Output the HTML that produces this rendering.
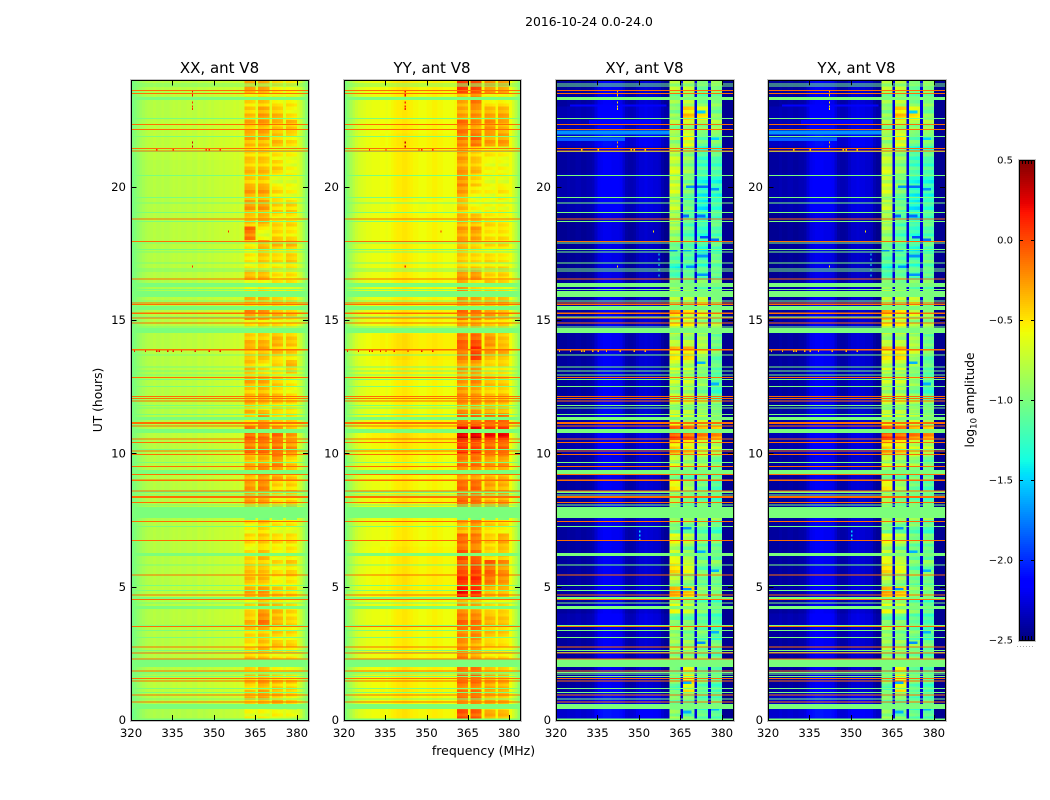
<!DOCTYPE html>
<html lang="en">
<head>
<meta charset="utf-8">
<title>2016-10-24 spectrogram, ant V8</title>
<style>
html,body{margin:0;padding:0;background:#fff;width:1050px;height:800px;overflow:hidden}
svg{display:block}
text{font-family:"DejaVu Sans",sans-serif;fill:#000}
</style>
</head>
<body>
<svg id="figure" width="1050" height="800" viewBox="0 0 1050 800" xmlns="http://www.w3.org/2000/svg">
<rect x="0" y="0" width="1050" height="800" fill="#fff"/>
<text x="589" y="26" font-size="12.4" text-anchor="middle">2016-10-24 0.0-24.0</text>
<text x="483.5" y="755" font-size="12.5" text-anchor="middle">frequency (MHz)</text>
<text transform="translate(102 400) rotate(-90)" font-size="12.3" text-anchor="middle">UT (hours)</text>
<text transform="translate(974 400) rotate(-90)" font-size="12.2" text-anchor="middle">log<tspan font-size="8.5" dy="2.5">10</tspan><tspan dy="-2.5"> amplitude</tspan></text>
</svg>
<script>
// ---------- axis data ----------
const panelTitles = ['XX, ant V8', 'YY, ant V8', 'XY, ant V8', 'YX, ant V8'];
const xTickValues = [320, 335, 350, 365, 380];
const yTickValues = [0, 5, 10, 15, 20];
const colorbarTicks = [-2.5, -2.0, -1.5, -1.0, -0.5, 0.0, 0.5];
const colorbarTickLabels = ['\u22122.5', '\u22122.0', '\u22121.5', '\u22121.0', '\u22120.5', '0.0', '0.5'];

// ---------- channel baselines, log10 amplitude for 320..360 MHz ----------
const xxChannelBase = [-1.02,-.98,-.93,-.88,-.85,-.82,-.8,-.8,-.78,-.8,-.8,-.78,-.8,-.8,-.78,-.76,-.78,-.76,-.78,-.78,-.76,-.76,-.78,-.78,-.74,-.76,-.78,-.76,-.74,-.76,-.74,-.74,-.72,-.74,-.72,-.72,-.72,-.7,-.72,-.7,-.7];
const yyChannelBase = [-1.0,-.92,-.85,-.78,-.72,-.68,-.66,-.64,-.62,-.62,-.6,-.6,-.6,-.58,-.58,-.6,-.58,-.56,-.54,-.52,-.52,-.5,-.5,-.52,-.54,-.56,-.56,-.58,-.58,-.58,-.56,-.56,-.54,-.54,-.56,-.56,-.58,-.58,-.58,-.58,-.56];
const xyChannelBase = [-2.42,-2.42,-2.42,-2.42,-2.4,-2.42,-2.42,-2.4,-2.4,-2.42,-2.42,-2.4,-2.4,-2.38,-2.3,-2.22,-2.2,-2.18,-2.18,-2.18,-2.2,-2.2,-2.2,-2.22,-2.3,-2.38,-2.4,-2.4,-2.38,-2.32,-2.28,-2.28,-2.26,-2.28,-2.28,-2.3,-2.3,-2.32,-2.4,-2.44,-2.44];
const yxChannelBase = [-2.42,-2.42,-2.42,-2.42,-2.4,-2.42,-2.42,-2.4,-2.4,-2.42,-2.42,-2.4,-2.4,-2.38,-2.3,-2.22,-2.2,-2.18,-2.18,-2.18,-2.2,-2.2,-2.2,-2.22,-2.3,-2.38,-2.4,-2.4,-2.38,-2.32,-2.28,-2.28,-2.26,-2.28,-2.28,-2.3,-2.3,-2.32,-2.4,-2.44,-2.44];
// ---------- channels above the blocks, 380..383 MHz ----------
const xxTail = [-.65,-.72,-.85,-.95];
const yyTail = [-.58,-.68,-.78,-.92];
const xyTail = [-2.45,-2.45,-2.45,-2.45];
const yxTail = [-2.45,-2.45,-2.45,-2.45];
// ---------- the single channels between blocks ----------
const gapValues = [-.64, -.56, -2.25, -2.25];

// ---------- per half-hour offset outside the blocks, listed from 24 h down to 0 h ----------
const xxRowBase = [0,0,0,.02,.03,.02,0,0,0,0,0,0,0,0,0,-.02,0,.02,0,0,0,0,0,0,0,0,.02,0,0,0,0,0,-.02,0,0,0,0,0,.02,0,0,0,0,0,0,.02,0,-.03];
const yyRowBase = [.02,0,0,0,.02,0,0,0,0,-.02,0,0,0,0,0,0,0,.02,0,.04,.04,.02,0,0,0,.02,.06,.03,0,0,0,.02,0,0,0,.02,.02,.03,.03,0,0,0,0,0,.02,.02,0,.02];
const xyRowBase = [0,0,.05,.05,.1,.02,0,.04,.04,.04,-.03,-.03,-.02,-.03,-.03,0,0,0,.02,0,0,0,0,0,0,.02,.06,.03,0,0,0,0,0,0,0,0,0,0,.02,0,.04,0,0,0,0,0,.1,.12];
const yxRowBase = [0,0,.05,.05,.1,.02,0,.04,.04,.04,-.03,-.03,-.02,-.03,-.03,0,0,0,.02,0,0,0,0,0,0,.02,.06,.03,0,0,0,0,0,0,0,0,0,0,.02,0,.04,0,0,0,0,0,.1,.12];

// ---------- band blocks: per half-hour values from 24 h down to 0 h ----------
const xxBlock361 = [-.3,-.45,-.35,-.3,-.3,-.4,-.35,-.35,-.25,-.25,-.35,-.1,-.45,-.5,-.35,-.5,-.35,-.2,-.5,-.3,-.35,-.35,-.3,-.35,-.3,-.4,-.05,-.1,-.3,-.25,-.25,-.25,-1,-.5,-.45,-.45,-.35,-.35,-.3,-.45,-.3,-.4,-.45,-.35,-.4,-.35,-.35,-.55];
const xxBlock366 = [-.3,-.4,-.25,-.25,-.3,-.4,-.35,-.35,-.25,-.25,-.3,-.55,-.3,-.4,-.35,-.45,-.35,-.25,-.45,-.3,-.3,-.45,-.3,-.3,-.35,-.2,-.1,-.1,-.25,-.15,-.2,-.25,-1,-.4,-.4,-.35,-.35,-.35,-.25,-.3,-.1,-.35,-.35,-.35,-.35,-.25,-.3,-.55];
const xxBlock371 = [-.45,-.5,-.3,-.35,-.35,-.5,-.4,-.55,-.45,-.4,-.45,-.4,-.35,-.45,-.45,-.5,-.35,-.35,-.45,-.3,-.35,-.45,-.4,-.35,-.4,-.45,-.1,-.1,-.15,-.25,-.4,-.45,-1,-.5,-.45,-.5,-.45,-.5,-.4,-.35,-.3,-.4,-.4,-.5,-.45,-.35,-.35,-.55];
const xxBlock376 = [-.5,-.5,-.45,-.35,-.45,-.55,-.55,-.55,-.55,-.4,-.45,-.45,-.35,-.4,-.45,-.5,-.4,-.4,-.5,-.35,-.4,-.35,-.5,-.45,-.45,-.45,-.25,-.2,-.35,-.35,-.4,-.4,-1,-.5,-.45,-.45,-.4,-.45,-.45,-.45,-.4,-.45,-.45,-.5,-.5,-.4,-.45,-.6];

const yyBlock361 = [.05,-.3,-.25,-.1,-.15,-.25,-.25,-.2,-.25,-.35,-.3,-.25,-.3,-.4,-.25,-.2,-.25,-.1,-.3,-.05,-.1,-.25,-.25,-.2,-.2,-.05,.3,.1,-.1,-.2,-.1,-.05,-1,-.3,-.1,0,0,.1,.2,-.25,-.05,-.15,-.2,-.1,-.1,-.1,-.15,0];
const yyBlock366 = [0,-.15,-.2,-.2,-.1,-.4,-.35,-.4,-.5,-.55,-.35,-.25,-.4,-.45,-.25,-.4,-.3,-.15,-.3,0,.1,-.25,-.2,-.25,-.2,-.05,.3,.05,-.1,-.2,-.1,-.1,-1,-.2,-.15,-.1,.05,.1,.1,-.3,-.1,-.15,-.3,-.25,-.1,-.1,-.15,-.05];
const yyBlock371 = [-.2,-.5,-.25,-.2,-.25,-.5,-.55,-.55,-.55,-.55,-.45,-.45,-.45,-.45,-.4,-.4,-.3,-.25,-.4,-.2,-.25,-.45,-.35,-.35,-.3,-.1,.2,-.05,-.2,-.3,-.25,-.3,-1,-.4,-.4,-.4,-.05,-.1,-.35,-.45,-.3,-.35,-.45,-.45,-.3,-.25,-.3,-.3];
const yyBlock376 = [-.25,-.5,-.25,-.3,-.25,-.55,-.55,-.55,-.5,-.55,-.5,-.45,-.45,-.5,-.4,-.45,-.3,-.35,-.4,-.35,-.3,-.45,-.4,-.35,-.35,-.1,.2,-.05,-.2,-.3,-.3,-.25,-1,-.45,-.3,-.35,-.2,-.2,-.35,-.45,-.35,-.4,-.5,-.45,-.35,-.3,-.35,-.35];

const xyBlock361 = [-.9,-1,-1,-.95,-.95,-.85,-.8,-.8,-.8,-.85,-.9,-.95,-1.1,-1.25,-1.3,-.9,-.9,-.5,-.7,-.85,-.55,-.8,-.85,-.9,-.85,-.7,-.1,-.5,-.8,-.95,-.7,-.95,-1,-1.05,-.75,-.8,-.55,-.9,-.45,-.75,-1.05,-.95,-.95,-.95,-1.1,-1.1,-1.1,-1];
const xyBlock366 = [-.9,-.9,-.5,-.85,-.7,-1,-1,-1.05,-1.1,-1.15,-1.2,-1.2,-1.2,-1.25,-1.2,-1,-.9,-.7,-.7,-.85,-.5,-.85,-.85,-.9,-.85,-.8,-.15,-.6,-.9,-1.05,-1,-1.1,-1,-1.1,-.9,-1,-.7,-1,-.55,-.85,-1.05,-1.05,-.95,-.95,-.7,-.6,-1.1,-1.1];
const xyBlock371 = [-1.1,-1.1,-.6,-1,-1.15,-1.3,-1.25,-1.3,-1.4,-1.45,-1.35,-1.3,-1.35,-1.3,-1.2,-1.1,-.7,-.8,-.9,-.9,-.85,-1,-1,-1,-.95,-.85,-.3,-.8,-.9,-1.05,-1.1,-1.15,-1,-1.1,-1.1,-1.1,-1.1,-1.1,-1.05,-1.1,-1.15,-1.1,-1.05,-1.05,-1.1,-1.15,-1.2,-1.2];
const xyBlock376 = [-1,-1.05,-1,-.95,-1.1,-1.2,-1.25,-1.3,-1.35,-1.3,-1.2,-1.2,-1.2,-1.15,-1.15,-1.1,-1,-1,-.9,-1.1,-1.1,-1.2,-1.2,-1.2,-1.05,-1,-.35,-.85,-1.05,-1.1,-1.2,-1.2,-1,-1.2,-1.1,-1.1,-1.05,-1.1,-1.1,-1.2,-1.25,-1.2,-1.15,-1.15,-1.15,-1.25,-1.2,-1.25];

const yxBlock361 = [-.9,-1,-1,-.95,-.95,-.85,-.8,-.8,-.8,-.85,-.9,-.95,-1.1,-1.25,-1.3,-.9,-.9,-.5,-.7,-.85,-.55,-.8,-.85,-.9,-.85,-.7,-.1,-.5,-.8,-.95,-.7,-.95,-1,-1.05,-.75,-.8,-.55,-.9,-.45,-.75,-1.05,-.95,-.95,-.95,-1.1,-1.1,-1.1,-1];
const yxBlock366 = [-.9,-.9,-.5,-.85,-.7,-1,-1,-1.05,-1.1,-1.15,-1.2,-1.2,-1.2,-1.25,-1.2,-1,-.9,-.7,-.7,-.85,-.5,-.85,-.85,-.9,-.85,-.8,-.15,-.6,-.9,-1.05,-1,-1.1,-1,-1.1,-.9,-1,-.7,-1,-.55,-.85,-1.05,-1.05,-.95,-.95,-.7,-.6,-1.1,-1.1];
const yxBlock371 = [-1.1,-1.1,-.6,-1,-1.15,-1.3,-1.25,-1.3,-1.4,-1.45,-1.35,-1.3,-1.35,-1.3,-1.2,-1.1,-.7,-.8,-.9,-.9,-.85,-1,-1,-1,-.95,-.85,-.3,-.8,-.9,-1.05,-1.1,-1.15,-1,-1.1,-1.1,-1.1,-1.1,-1.1,-1.05,-1.1,-1.15,-1.1,-1.05,-1.05,-1.1,-1.15,-1.2,-1.2];
const yxBlock376 = [-1,-1.05,-1,-.95,-1.1,-1.2,-1.25,-1.3,-1.35,-1.3,-1.2,-1.2,-1.2,-1.15,-1.15,-1.1,-1,-1,-.9,-1.1,-1.1,-1.2,-1.2,-1.2,-1.05,-1,-.35,-.85,-1.05,-1.1,-1.2,-1.2,-1,-1.2,-1.1,-1.1,-1.05,-1.1,-1.1,-1.2,-1.25,-1.2,-1.15,-1.15,-1.15,-1.25,-1.2,-1.25];

// ---------- fine striping inside blocks and channel tilt within a block ----------
const blockStripes = [-.02,-.18,.02,-.08,-.22,-.04,.03,-.14,-.06,-.2,.01,-.1,.02,-.16,-.24,-.03,-.09,.03,-.19,-.05,-.12];
const stripeScale = [.7, .6, 1.1, 1.1];
const blockTilt = [.03, .02, 0, -.02];
const crossBrightening = 0.15;

// ---------- flagged integrations (hours), constant across all channels ----------
const greenLineHours = [23.85,23.78,22.55,21.89,21.31,20.42,19.6,19.38,19.04,18.7,17.88,17.65,17.55,17.13,16.91,16.84,16.15,15.71,15.11,14.74,13.68,13.23,13.08,12.93,12.77,12.51,11.8,11.7,11.46,10.15,9.66,8.44,8.06,7.26,5.81,5.05,4.86,4.38,3.55,3.36,3.1,2.61,2.54,1.78,1.72,1.64,1.19,1.04,.78];
const greenBandStarts = [23.25,16.24,15.86,15.38,14.59,14.51,11.25,10.76,9.23,8.51,7.58,6.15,4.53,4.16,1.99,.42,0];
const greenBandEnds = [23.36,16.39,16.09,15.53,14.7,14.59,11.36,10.91,9.38,8.61,7.99,6.26,4.61,4.28,2.26,.6,.06];
const redLineHours = [23.6,23.5,22.34,22.15,21.44,21.34,18.78,17.95,16.53,15.64,15.59,15.08,14.88,13.88,12.85,12.14,12.06,11.96,11.03,10.53,10.41,10.08,9.96,9.51,9.21,8.58,8.16,7.45,6.74,5.43,4.68,4.52,3.51,2.73,2.51,2.28,1.83,1.56,1.47,.93,.67];
const redBandStarts = [15.22,13.85,11.1,8.96,8.32];
const redBandEnds = [15.29,13.91,11.18,9.02,8.4];
const lineThicknessHours = 0.0375;
const greenLevel = -1.0;
const redLevel = -0.12;

// ---------- low-level streaks in the cross-hand panels ----------
const streakStartHours = [21.96,21.72,23.0,22.34];
const streakEndHours = [22.1,21.84,23.08,22.5];
const streakFirstChannels = [320,320,325,332];
const streakLastChannels = [361,345,360,358];
const streakValues = [-1.7,-1.85,-2.15,-2.15];

// ---------- dark patches inside the cross-hand blocks ----------
const patchHours = [22.8,21.8,20,20,19.9,18.9,18.9,18.1,18,17.6,17.6,17.4,17,16.7,13.4,12.6,7.2,6.3,5.6,4.9,3.3,2.9,1.4,.4,.3];
const patchChannels = [371,376,367,371,376,371,366,372,376,361,366,371,367,371,371,376,366,371,376,366,376,371,366,376,366];
const patchWidths = [3,3,3,4,3,3,2,3,3,3,3,4,3,4,3,3,3,3,3,3,3,3,3,3,3];
const patchValues = [-1.5,-1.5,-1.7,-1.8,-1.7,-1.8,-1.8,-1.9,-1.8,-1.7,-1.6,-1.7,-1.7,-1.7,-1.6,-1.6,-1.7,-1.6,-1.6,-1.7,-1.6,-1.7,-1.6,-1.6,-1.6];
const patchHeightHours = 0.1;

// ---------- single-sample outliers ----------
const speckHours = [23.6,23.5,23.45,23.2,23.05,22.95,21.7,21.55,21.42,21.42,21.42,21.42,21.42,13.87,13.87,13.87,13.87,13.87,13.87,13.87,13.87,13.87,13.87,17.05,18.35];
const speckChannels = [342,342,342,342,342,342,342,342,329,335,347,348,352,321,325,329,330,333,335,338,343,348,352,342,355];
const speckValues = [.2,.2,.2,.1,.1,.1,.3,.3,.1,.1,.1,.1,.1,.2,.2,.2,.2,.2,.2,.2,.2,.2,.2,.1,.1];
const crossSpeckHours = [17.5,17.3,17.1,16.9,16.7,7.1,6.95,6.8];
const crossSpeckChannels = [357,357,357,357,357,350,350,350];
const crossSpeckValues = [-1.4,-1.4,-1.4,-1.4,-1.4,-1.5,-1.5,-1.5];

// ---------- layout ----------
const panelLefts = [131, 344, 556, 768];
const panelWidths = [177, 176, 177, 177];
const plotTop = 80;
const plotBottom = 720;
const hourMax = 24;
const mhzMin = 320;
const mhzMax = 384;
const rowHours = 0.5;
const subRows = 4;

const channelBases = [xxChannelBase, yyChannelBase, xyChannelBase, yxChannelBase];
const tails = [xxTail, yyTail, xyTail, yxTail];
const rowBases = [xxRowBase, yyRowBase, xyRowBase, yxRowBase];
const blocks = [
  [xxBlock361, xxBlock366, xxBlock371, xxBlock376],
  [yyBlock361, yyBlock366, yyBlock371, yyBlock376],
  [xyBlock361, xyBlock366, xyBlock371, xyBlock376],
  [yxBlock361, yxBlock366, yxBlock371, yxBlock376]
];

const SVGNS = 'http://www.w3.org/2000/svg';
const fig = document.getElementById('figure');

function xScale(panel, mhz) { return panelLefts[panel] + (mhz - mhzMin) * panelWidths[panel] / (mhzMax - mhzMin); }
function yScale(hour) { return plotBottom - hour * (plotBottom - plotTop) / hourMax; }
function colorbarY(v) { return 640 - (v + 2.5) * 160; }

function ramp(t, pts) {
  for (let i = 1; i < pts.length; i++) {
    if (t <= pts[i][0]) {
      const a = pts[i - 1], b = pts[i];
      return a[1] + (b[1] - a[1]) * (t - a[0]) / (b[0] - a[0]);
    }
  }
  return pts[pts.length - 1][1];
}
const jetR = [[0,0],[.35,0],[.66,1],[.89,1],[1,.5]];
const jetG = [[0,0],[.125,0],[.375,1],[.64,1],[.91,0],[1,0]];
const jetB = [[0,.5],[.11,1],[.34,1],[.65,0],[1,0]];
function valueColor(v) {
  const t = Math.min(1, Math.max(0, (v + 2.5) / 3));
  return 'rgb(' + Math.round(255 * ramp(t, jetR)) + ',' + Math.round(255 * ramp(t, jetG)) + ',' + Math.round(255 * ramp(t, jetB)) + ')';
}

function addRect(parent, x, y, w, h, fill) {
  const r = document.createElementNS(SVGNS, 'rect');
  r.setAttribute('x', x.toFixed(2));
  r.setAttribute('y', y.toFixed(2));
  r.setAttribute('width', w.toFixed(2));
  r.setAttribute('height', h.toFixed(2));
  r.setAttribute('fill', fill);
  parent.appendChild(r);
  return r;
}
function addGroup(parent, crisp) {
  const g = document.createElementNS(SVGNS, 'g');
  if (crisp) g.setAttribute('shape-rendering', 'crispEdges');
  parent.appendChild(g);
  return g;
}
function addText(parent, x, y, str, size, anchor) {
  const t = document.createElementNS(SVGNS, 'text');
  t.setAttribute('x', x);
  t.setAttribute('y', y);
  t.setAttribute('font-size', size);
  t.setAttribute('text-anchor', anchor);
  t.textContent = str;
  parent.appendChild(t);
  return t;
}

function isBlockChannel(ch) {
  return ch >= 361 && ch < 380 && (ch - 361) % 5 !== 4;
}
function cellValue(panel, row, ch, stripe) {
  if (ch <= 360) return channelBases[panel][ch - 320] + rowBases[panel][row];
  if (ch >= 380) return tails[panel][ch - 380];
  const offset = ch - 361;
  if (offset % 5 === 4) return gapValues[panel];
  const lift = panel >= 2 ? crossBrightening : 0;
  return blocks[panel][Math.floor(offset / 5)][row] + stripe * stripeScale[panel] + blockTilt[offset % 5] + lift;
}

panelTitles.forEach(function (title, p) {
  const panel = addGroup(fig, false);
  
  

  const heat = addGroup(panel, true);
  
  
  const nRows = xxBlock361.length;
  for (let row = 0; row < nRows; row++) {
    for (let ch = mhzMin; ch < mhzMax; ch++) {
      const x0 = xScale(p, ch);
      const x1 = xScale(p, ch + 1);
      const pieces = isBlockChannel(ch) ? subRows : 1;
      for (let s = 0; s < pieces; s++) {
        const h0 = hourMax - (row + s / pieces) * rowHours;
        const h1 = hourMax - (row + (s + 1) / pieces) * rowHours;
        const stripe = blockStripes[(row * subRows + s + (ch > 370 ? 5 : 0)) % blockStripes.length];
        const cell = addRect(heat, x0, yScale(h0), x1 - x0 + 0.5, yScale(h1) - yScale(h0) + 0.5, valueColor(cellValue(p, row, ch, stripe)));
        
        
      }
    }
  }

  const details = addGroup(panel, true);
  
  
  if (p >= 2) {
    streakValues.forEach(function (v, i) {
      const s = addRect(details, xScale(p, streakFirstChannels[i]), yScale(streakEndHours[i]),
        xScale(p, streakLastChannels[i]) - xScale(p, streakFirstChannels[i]),
        yScale(streakStartHours[i]) - yScale(streakEndHours[i]), valueColor(v));
      
      
    });
    patchValues.forEach(function (v, i) {
      const s = addRect(details, xScale(p, patchChannels[i]), yScale(patchHours[i] + patchHeightHours / 2),
        xScale(p, patchChannels[i] + patchWidths[i]) - xScale(p, patchChannels[i]),
        yScale(0) - yScale(patchHeightHours), valueColor(v));
      
      
    });
    crossSpeckValues.forEach(function (v, i) {
      const s = addRect(details, xScale(p, crossSpeckChannels[i]), yScale(crossSpeckHours[i]),
        xScale(p, crossSpeckChannels[i] + 0.5) - xScale(p, crossSpeckChannels[i]), 2, valueColor(v));
      
      
    });
  }
  speckValues.forEach(function (v, i) {
    const s = addRect(details, xScale(p, speckChannels[i]), yScale(speckHours[i]),
      xScale(p, speckChannels[i] + 0.5) - xScale(p, speckChannels[i]), 2, valueColor(p >= 2 ? v - 0.6 : v));
    
    
  });

  const flags = addGroup(panel, true);
  
  
  const x0 = xScale(p, mhzMin);
  const w = xScale(p, mhzMax) - x0;
  const green = valueColor(greenLevel);
  const red = valueColor(redLevel);
  greenBandStarts.forEach(function (h, i) {
    const b = addRect(flags, x0, yScale(greenBandEnds[i]), w, yScale(h) - yScale(greenBandEnds[i]), green);
    
    
  });
  greenLineHours.forEach(function (h) {
    const b = addRect(flags, x0, yScale(h + lineThicknessHours / 2), w, 1, green);
    
    
  });
  redBandStarts.forEach(function (h, i) {
    const b = addRect(flags, x0, yScale(redBandEnds[i]), w, yScale(h) - yScale(redBandEnds[i]), red);
    
    
  });
  redLineHours.forEach(function (h) {
    const b = addRect(flags, x0, yScale(h + lineThicknessHours / 2), w, 1, red);
    
    
  });

  const axes = addGroup(panel, true);
  
  
  const right = x0 + w;
  const halo = document.createElementNS(SVGNS, 'rect');
  halo.setAttribute('x', x0 - 0.5);
  halo.setAttribute('y', plotTop - 0.5);
  halo.setAttribute('width', w + 2);
  halo.setAttribute('height', plotBottom - plotTop + 2);
  halo.setAttribute('fill', 'none');
  halo.setAttribute('stroke', '#c4c4c4');
  halo.setAttribute('stroke-width', '1');
  
  
  axes.appendChild(halo);
  const frame = document.createElementNS(SVGNS, 'rect');
  frame.setAttribute('x', x0 + 0.5);
  frame.setAttribute('y', plotTop + 0.5);
  frame.setAttribute('width', w);
  frame.setAttribute('height', plotBottom - plotTop);
  frame.setAttribute('fill', 'none');
  frame.setAttribute('stroke', '#000');
  frame.setAttribute('stroke-width', '1');
  
  
  axes.appendChild(frame);

  xTickValues.forEach(function (v) {
    const x = xScale(p, v);
    if (v !== mhzMin) {
      const a = addRect(axes, Math.round(x), plotBottom - 5, 1, 5.5, '#000');
      
      
      const b = addRect(axes, Math.round(x), plotTop, 1, 5.5, '#000');
      
      
    }
    const lab = addText(axes, x, 737, String(v), 11.7, 'middle');
    
    
  });
  yTickValues.forEach(function (v) {
    const y = yScale(v);
    if (v !== 0) {
      const a = addRect(axes, x0, Math.round(y), 5.5, 1, '#000');
      
      
      const b = addRect(axes, right - 5, Math.round(y), 5.5, 1, '#000');
      
      
    }
    const lab = addText(axes, x0 - 5, y + 4.2, String(v), 11.7, 'end');
    
    
  });

  const ttl = addText(axes, x0 + w / 2, 73, title, 15, 'middle');
  
  
});

// ---------- colorbar ----------
const cbar = addGroup(fig, true);


const cbarFill = addGroup(cbar, true);


for (let y = 160; y < 640; y += 2) {
  const v = (640 - y - 1) / 160 - 2.5;
  addRect(cbarFill, 1019, y, 15, 2.2, valueColor(v));
}
const cbHalo = addRect(cbar, 1018.5, 159.5, 17, 482, 'none');
cbHalo.setAttribute('stroke', '#c4c4c4');


const cbFrame = addRect(cbar, 1019.5, 160.5, 15, 480, 'none');
cbFrame.setAttribute('stroke', '#000');


colorbarTicks.forEach(function (v, i) {
  const y = colorbarY(v);
  const a = addRect(cbar, 1019, y, 4, 1, '#000');
  
  
  const b = addRect(cbar, 1031, y, 4, 1, '#000');
  
  
  const lab = addText(cbar, 1013, y + 3.6, colorbarTickLabels[i], 10, 'end');
  
  
});
[1022, 1025, 1028, 1031].forEach(function (x) {
  const a = addRect(cbar, x, 160, 1, 4, '#000');
  
  
  const b = addRect(cbar, x, 636, 1, 4, '#000');
  
  
});
[1017, 1020, 1023, 1026, 1029, 1032].forEach(function (x) {
  const d = addRect(cbar, x, 646, 1, 1, '#aaa');
  
  
});
</script>
</body>
</html>
